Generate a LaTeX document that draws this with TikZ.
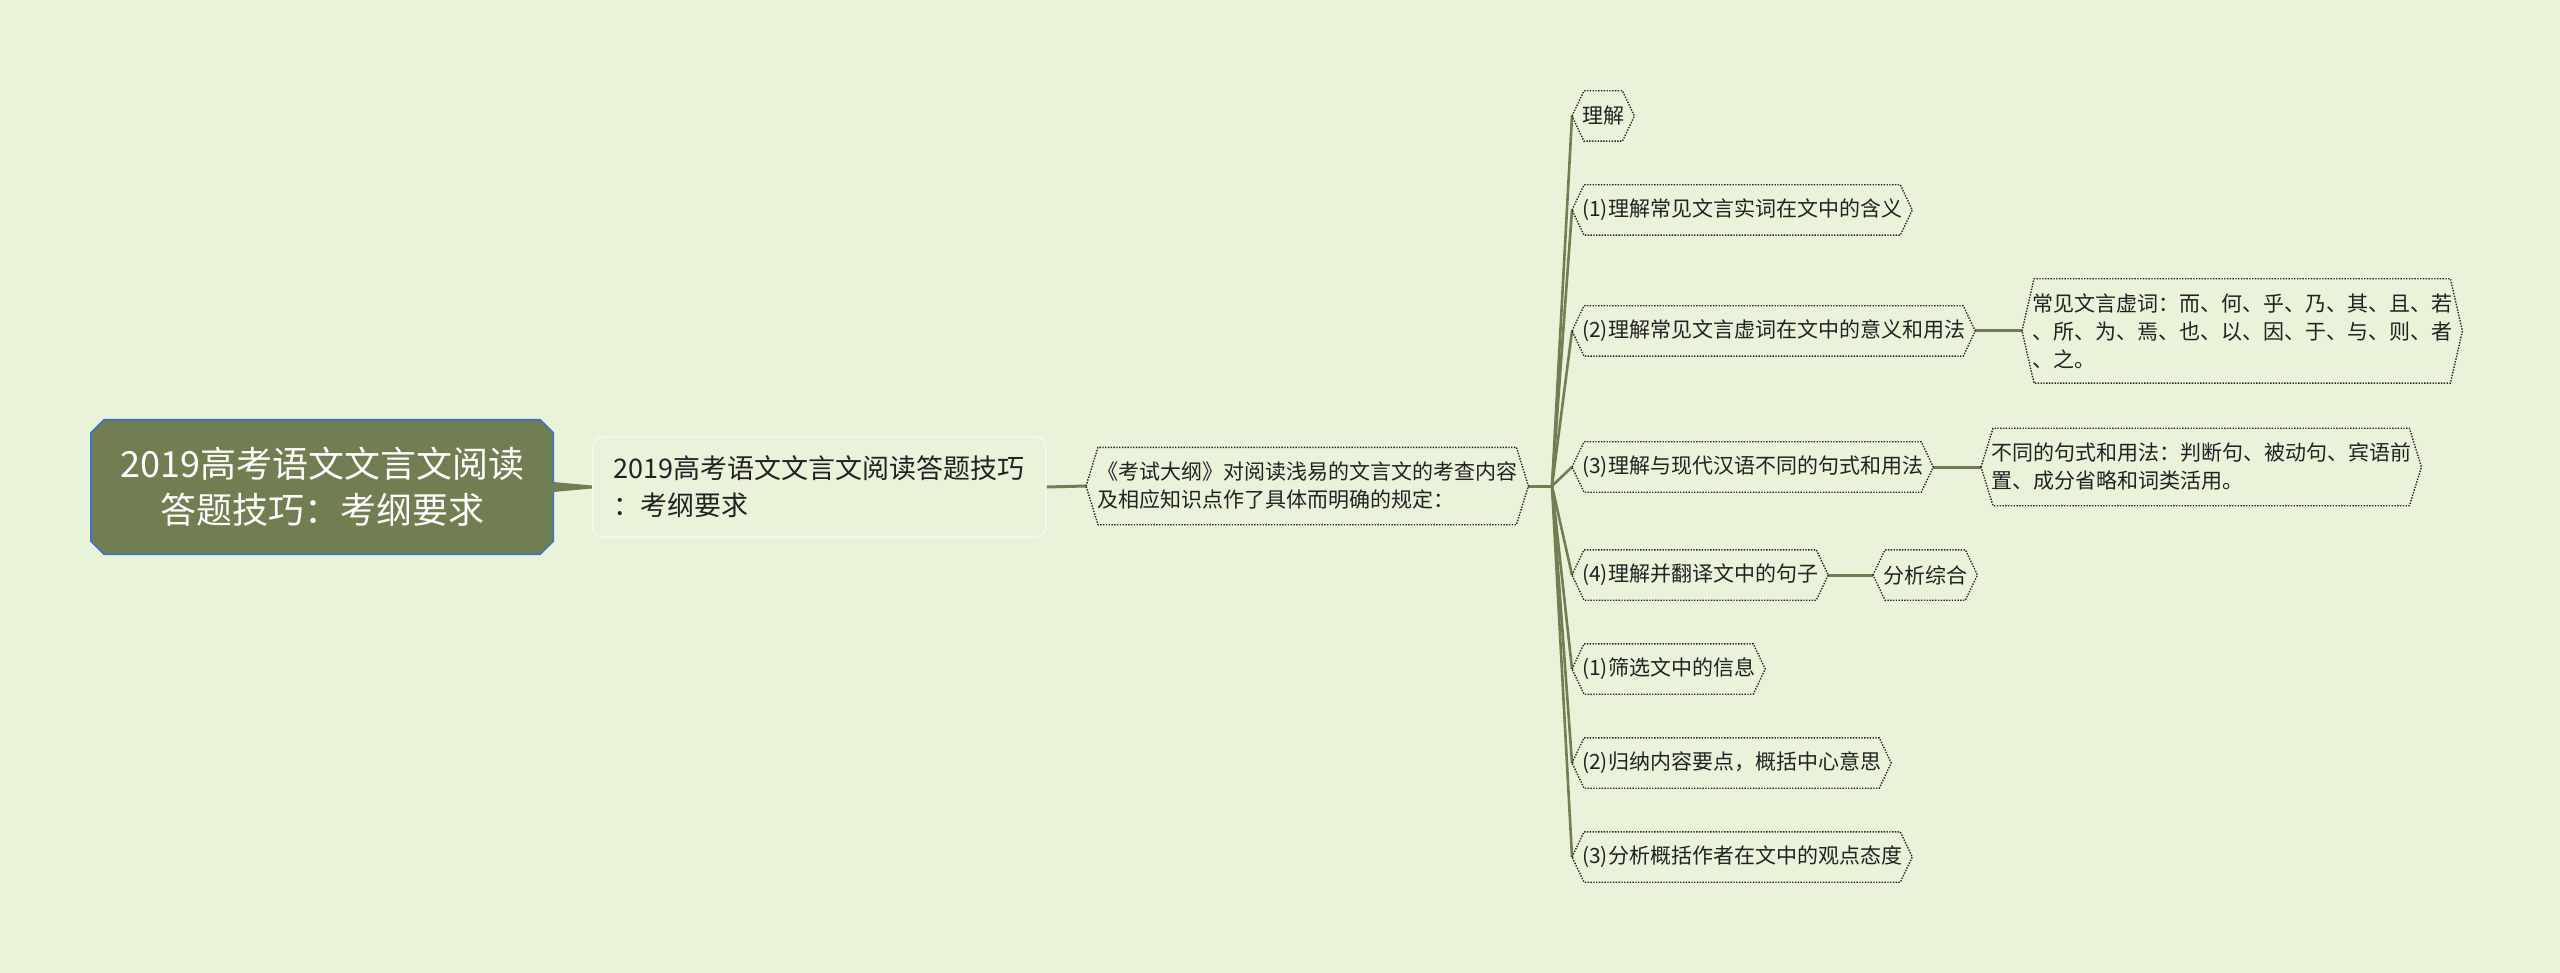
\documentclass[tikz,border=0pt]{standalone}
\usepackage{fontspec}
\newfontfamily\cjk{Noto Sans CJK SC}
\definecolor{bgc}{RGB}{232,243,218}
\definecolor{olivefill}{RGB}{112,126,82}
\definecolor{rootborder}{RGB}{62,115,200}
\definecolor{conn}{RGB}{112,126,82}
\definecolor{txt}{RGB}{34,34,34}
\definecolor{ntwoborder}{RGB}{244,249,240}
\pgfdeclarelayer{bglayer}
\pgfdeclarelayer{shapelayer}
\pgfsetlayers{bglayer,shapelayer,main}
\tikzset{
  hexnode/.style={anchor=west, inner xsep=10pt, inner ysep=0pt,
    font=\cjk\fontsize{21}{28}\selectfont, text=txt, align=left, minimum height=50pt},
  hexline/.style={draw=black!85, line width=1.4pt, dash pattern=on 1.4pt off 1.4pt},
  link/.style={draw=conn, line width=3pt},
  branch/.style={draw=conn, line width=2.6pt},
}
\newcommand\hexframe[1]{\draw[hexline] (#1.west) -- ([xshift=12pt]#1.north west) -- ([xshift=-12pt]#1.north east) -- (#1.east) -- ([xshift=-12pt]#1.south east) -- ([xshift=12pt]#1.south west) -- cycle;}
\begin{document}
\begin{tikzpicture}[x=1pt,y=-1pt]
\begin{pgfonlayer}{bglayer}
  \fill[bgc] (0,0) rectangle (2560,973);
\end{pgfonlayer}
\useasboundingbox (0,0) rectangle (2560,973);

% root
\node[anchor=west, minimum width=462pt, minimum height=134pt, inner sep=0pt, align=center,
  font=\cjk\fontsize{36}{46}\selectfont, text=white] (root) at (91,487)
  {2019高考语文文言文阅读\\答题技巧：考纲要求};

% second level
\node[anchor=west, draw=ntwoborder, line width=1.5pt, rounded corners=10pt,
  minimum width=453pt, minimum height=100pt, inner xsep=16pt, align=left,
  font=\cjk\fontsize{27}{37}\selectfont, text=txt] (n2) at (592,487)
  {2019高考语文文言文阅读答题技巧\\：考纲要求};

% third level
\node[hexnode, minimum height=77pt, inner xsep=11pt] (n3) at (1086,486)
  {《考试大纲》对阅读浅易的文言文的考查内容\\及相应知识点作了具体而明确的规定：};

\coordinate (J) at (1552,486);

% children
\node[hexnode] (c0) at (1572,116) {理解};
\node[hexnode] (c1) at (1572,210) {(1)理解常见文言实词在文中的含义};
\node[hexnode] (c2) at (1572,331) {(2)理解常见文言虚词在文中的意义和用法};
\node[hexnode, minimum height=104pt] (c2a) at (2022,331)
  {常见文言虚词：而、何、乎、乃、其、且、若\\、所、为、焉、也、以、因、于、与、则、者\\、之。};
\node[hexnode] (c3) at (1572,467) {(3)理解与现代汉语不同的句式和用法};
\node[hexnode, minimum height=77pt] (c3a) at (1981,467)
  {不同的句式和用法：判断句、被动句、宾语前\\置、成分省略和词类活用。};
\node[hexnode] (c4) at (1572,575) {(4)理解并翻译文中的句子};
\node[hexnode] (c4a) at (1873,575) {分析综合};
\node[hexnode] (c5) at (1572,669) {(1)筛选文中的信息};
\node[hexnode] (c6) at (1572,763) {(2)归纳内容要点，概括中心意思};
\node[hexnode] (c7) at (1572,857) {(3)分析概括作者在文中的观点态度};

\begin{pgfonlayer}{shapelayer}
  % root shape
  \filldraw[fill=olivefill, draw=rootborder, line width=1.6pt]
    ([xshift=13pt]root.north west) -- ([xshift=-13pt]root.north east)
    -- ([yshift=-13pt]root.north east) -- ([yshift=13pt]root.south east)
    -- ([xshift=-13pt]root.south east) -- ([xshift=13pt]root.south west)
    -- ([yshift=13pt]root.south west) -- ([yshift=-13pt]root.north west) -- cycle;
  % tapered connector root -> n2
  \fill[conn] ([yshift=5pt]root.east) .. controls ([xshift=20pt,yshift=3pt]root.east) .. ([yshift=1.5pt]n2.west)
    -- ([yshift=-1.5pt]n2.west) .. controls ([xshift=20pt,yshift=-3pt]root.east) .. ([yshift=-5pt]root.east) -- cycle;
  \draw[link] (n2.east) -- (n3.west);
  \draw[link] (n3.east) -- (J);
  \foreach \c in {c0,c1,c2,c3,c4,c5,c6,c7} {\draw[branch] (J) -- (\c.west);}
  \draw[link] (c2.east) -- (c2a.west);
  \draw[link] (c3.east) -- (c3a.west);
  \draw[link] (c4.east) -- (c4a.west);
  % hexagon frames
  \foreach \c in {n3,c0,c1,c2,c2a,c3,c3a,c4,c4a,c5,c6,c7} {\hexframe{\c}}
\end{pgfonlayer}
\end{tikzpicture}
\end{document}
